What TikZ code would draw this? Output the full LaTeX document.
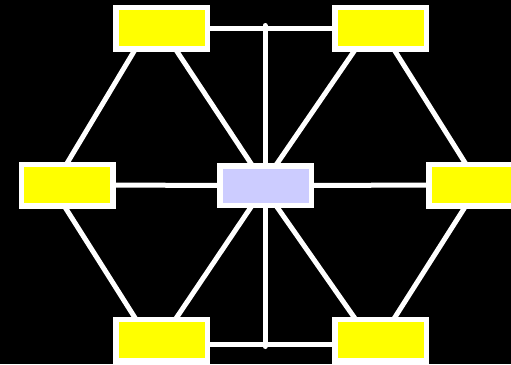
\documentclass[tikz,border=0pt]{standalone}
\pgfdeclarelayer{background}
\pgfsetlayers{background,main}
\definecolor{hubcol}{RGB}{204,204,255}
\definecolor{boxcol}{RGB}{255,255,0}
\begin{document}
\begin{tikzpicture}[x=1pt,y=-1pt,
  box/.style={draw=white,line width=5.5pt,fill=boxcol,minimum width=91.5pt,minimum height=41.5pt,inner sep=0pt},
  hub/.style={box,fill=hubcol,minimum height=39.5pt},
  link/.style={draw=white,line width=5pt}]
\useasboundingbox (0,0) rectangle (511,364);
\node[box] (tl) at (161.5,28) {};
\node[box] (tr) at (380.5,28) {};
\node[box] (l) at (67,185) {};
\node[hub] (c) at (265.5,185.5) {};
\node[box] (r) at (474.5,185) {};
\node[box] (bl) at (161.5,340) {};
\node[box] (br) at (380.5,340) {};
\coordinate (vt) at (265,25.5);
\coordinate (vb) at (265,346.5);
\begin{pgfonlayer}{background}
\fill[black] (0,0) rectangle (511,364);
\draw[link] (tl) -- (tr);
\draw[link] ([yshift=-4pt]bl.center) -- ([yshift=-4pt]br.center);
\draw[link] (l) -- (c) -- (r);
\draw[link,line cap=round] (vt) -- (vb);
\draw[link] ([xshift=-13.5pt]tl.center) -- ([xshift=-13pt]l.center);
\draw[link] (tl.center) -- (c.center);
\draw[link] ([xshift=-3.5pt]c.center) -- ([xshift=-10.5pt]tr.center);
\draw[link] (tr.center) -- ([xshift=4.5pt]r.center);
\draw[link] ([xshift=-16pt]l.center) -- ([xshift=-12.5pt]bl.center);
\draw[link] (c.center) -- (bl.center);
\draw[link] ([xshift=-3.5pt]c.center) -- ([xshift=-10.5pt]br.center);
\draw[link] ([xshift=4.5pt]r.center) -- (br.center);
\end{pgfonlayer}
\end{tikzpicture}
\end{document}
